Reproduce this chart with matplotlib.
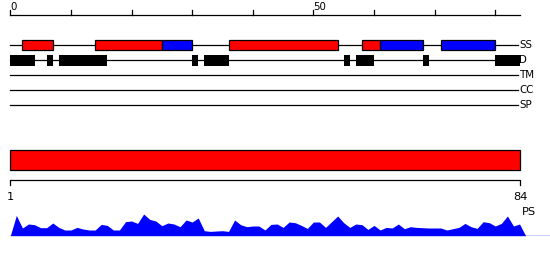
import matplotlib
matplotlib.use("Agg")
import matplotlib.pyplot as plt
from matplotlib.patches import Rectangle

# ---- data ----
seq_len = 84
top_ticks = [0, 10, 20, 30, 40, 50, 60, 70, 80]
top_tick_labels = {0: "0", 50: "50"}
track_names = ["SS", "D", "TM", "CC", "SP"]
ss_helix = [(2, 7), (14, 25), (36, 54), (58, 61)]      # red
ss_strand = [(25, 30), (61, 68), (71, 80)]             # blue
disorder = [(0, 4), (6, 7), (8, 16), (30, 31), (32, 36),
            (55, 56), (57, 60), (68, 69), (80, 84)]
domain = (1, 84)
ps_values = [0, 20.3, 7.7, 11.7, 11, 8, 8, 12.7, 8.3, 5.7, 5.7, 8.3, 6.7, 5.7,
             5.7, 11.3, 10.3, 5.7, 5.7, 14, 14.7, 12.3, 21.7, 16.3, 14.7, 10,
             12.7, 11.7, 9, 15.7, 13.7, 17.7, 5, 4.3, 4.7, 5, 4.3, 15.7, 11, 9,
             9.7, 9.7, 5.7, 11.3, 11.7, 8.3, 13.7, 13, 10.3, 7.3, 13.7, 13.7,
             8.3, 14, 19.7, 13, 8.3, 11.7, 11, 6.3, 10.3, 5.7, 8.3, 7.7, 11.7,
             7, 9, 8.3, 8, 7.7, 7.7, 7.7, 5.7, 7, 8.3, 12.3, 9, 7.3, 14, 13,
             9.7, 12.3, 19.7, 9.7, 11.7, 0]

W, H = 550, 260
fig = plt.figure(figsize=(W / 100, H / 100), dpi=100)
plt.rcParams['font.family'] = ['DejaVu Sans']

px_per_unit = 6.0625
x0_px = 10.3
xl = (-x0_px / px_per_unit, (W - x0_px) / px_per_unit)

ax = fig.add_axes([0, 0, 1, 1])
ax.set_xlim(*xl)
ax.set_ylim(H, 0)
ax.axis('off')

lw = 0.9
# top ruler
ax.plot([0, seq_len + 0.1], [14.7, 14.7], color='black', lw=lw)
for t in top_ticks:
    ax.plot([t, t], [14.7, 10.3], color='black', lw=lw)
    if t in top_tick_labels:
        ax.text(t, 9.6, top_tick_labels[t], ha='left', va='baseline', fontsize=7.4)

rows = {"SS": 45, "D": 60.3, "TM": 75.3, "CC": 90.3, "SP": 105.3}
for name in track_names:
    y = rows[name]
    ax.plot([0, seq_len - 0.2], [y, y], color='black', lw=lw, zorder=1)
    ax.text(seq_len - 0.1, y, name, ha='left', va='center', fontsize=7.4)

bh = 10
for s, e in ss_helix:
    ax.add_patch(Rectangle((s, rows["SS"] - bh / 2), e - s, bh, facecolor='#ff0000',
                           edgecolor='black', lw=lw, zorder=2))
for s, e in ss_strand:
    ax.add_patch(Rectangle((s, rows["SS"] - bh / 2), e - s, bh, facecolor='#0000ff',
                           edgecolor='black', lw=lw, zorder=2))
for s, e in disorder:
    ax.add_patch(Rectangle((s, rows["D"] - 5.3), e - s, 10.6, facecolor='black',
                           edgecolor='black', lw=0, zorder=2))

# bottom section in residue coordinates
ax2 = fig.add_axes([0, 0, 1, 1])
ax2.patch.set_alpha(0)
rp = (520.3 - 10.3) / (domain[1] - domain[0])
ax2.set_xlim(domain[0] - 10.3 / rp, domain[0] + (W - 10.3) / rp)
ax2.set_ylim(H, 0)
ax2.axis('off')
ax2.add_patch(Rectangle((domain[0], 150.3), domain[1] - domain[0], 20,
                        facecolor='#ff0000', edgecolor='black', lw=lw))
ax2.plot([domain[0], domain[0], domain[1], domain[1]], [185, 180.3, 180.3, 185],
         color='black', lw=lw)
ax2.text(domain[0], 200, str(domain[0]), ha='center', va='baseline', fontsize=8.2)
ax2.text(domain[1], 200, str(domain[1]), ha='center', va='baseline', fontsize=8.2)
ax2.text(domain[1] + 0.2, 215, "PS", ha='left', va='baseline', fontsize=8.2)

# PS profile
ax3 = fig.add_axes([0, (H - 235.7) / H, 1, 30 / H])
ax3.patch.set_alpha(0)
ax3.set_xlim(*xl)
ax3.set_ylim(0, 30)
ax3.axis('off')
xs = list(range(len(ps_values)))
ax3.fill_between(xs, 0, ps_values, color='#0000ff', lw=0)
ax3.plot([0, xl[1]], [0, 0], color='#0000ff', lw=1.0)

fig.savefig("out.png", dpi=100)
